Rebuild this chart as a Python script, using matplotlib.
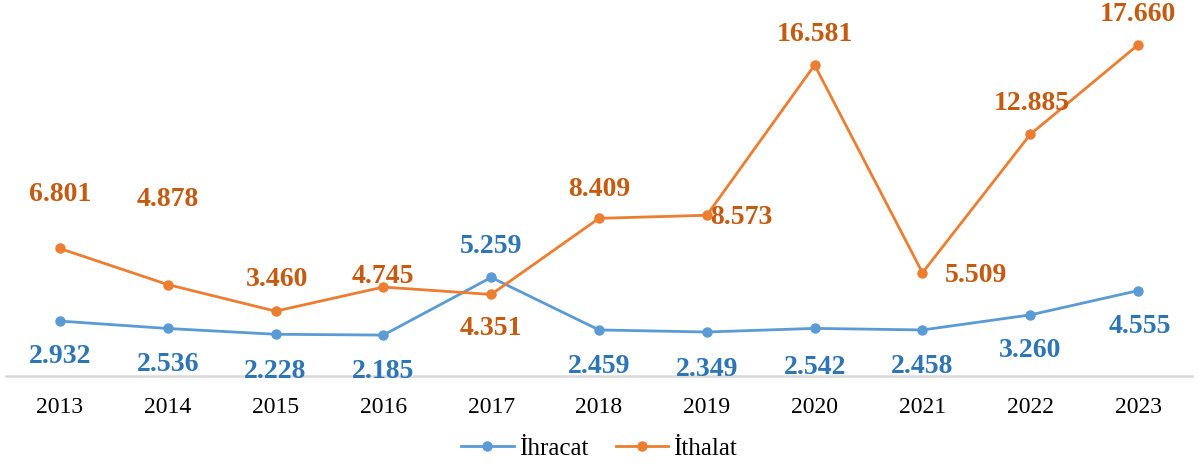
import matplotlib.pyplot as plt

plt.rcParams['font.family'] = ['Liberation Serif', 'DejaVu Serif']

# Yıllara göre ihracat ve ithalat değerleri
years = ['2013', '2014', '2015', '2016', '2017', '2018', '2019', '2020', '2021', '2022', '2023']
ihracat = [2.932, 2.536, 2.228, 2.185, 5.259, 2.459, 2.349, 2.542, 2.458, 3.260, 4.555]
ithalat = [6.801, 4.878, 3.460, 4.745, 4.351, 8.409, 8.573, 16.581, 5.509, 12.885, 17.660]

# etiketlerin noktaya göre kaydırması (piksel)
ihr_off = [(0, -35), (0, -36), (0, -37), (0, -36), (0, 31), (0, -37),
           (0, -37), (0, -39), (0, -37), (0, -36), (2, -36)]
ith_off = [(0, 54), (0, 85), (2, 32), (0, 11), (0, -34), (0, 29),
           (34, -2), (0, 31), (54, -3), (2, 31), (0, 30)]

fig = plt.figure(figsize=(11.98, 4.66), dpi=100)
ax = fig.add_axes([0.005, 0.193, 0.99, 0.805])

x = range(len(years))
ax.plot(x, ihracat, '-o', color='#5B9BD5', lw=2.0, ms=6.5, label='İhracat')
ax.plot(x, ithalat, '-o', color='#ED7D31', lw=2.0, ms=6.5, label='İthalat')

for i in x:
    ax.annotate(f'{ihracat[i]:.3f}', (i, ihracat[i]), xytext=ihr_off[i],
                textcoords='offset pixels', ha='center', va='center',
                fontsize=20, fontweight='bold', color='#2E75B6')
    ax.annotate(f'{ithalat[i]:.3f}', (i, ithalat[i]), xytext=ith_off[i],
                textcoords='offset pixels', ha='center', va='center',
                fontsize=20, fontweight='bold', color='#C55A11')

ax.set_xlim(-0.5, len(years) - 0.5)
ax.set_ylim(0, 20)
ax.set_xticks(list(x))
ax.set_xticklabels(years, fontsize=17)
ax.tick_params(axis='x', length=0, pad=15)
ax.set_yticks([])
for s in ['top', 'right', 'left']:
    ax.spines[s].set_visible(False)
ax.spines['bottom'].set_color('#D9D9D9')
ax.spines['bottom'].set_linewidth(1.8)

fig.legend(loc='center', bbox_to_anchor=(0.5, 0.038), ncol=2, frameon=False,
           fontsize=18, handlelength=2.1, handletextpad=0.2, columnspacing=1.1)

plt.savefig('out.png', dpi=100)
plt.close()
